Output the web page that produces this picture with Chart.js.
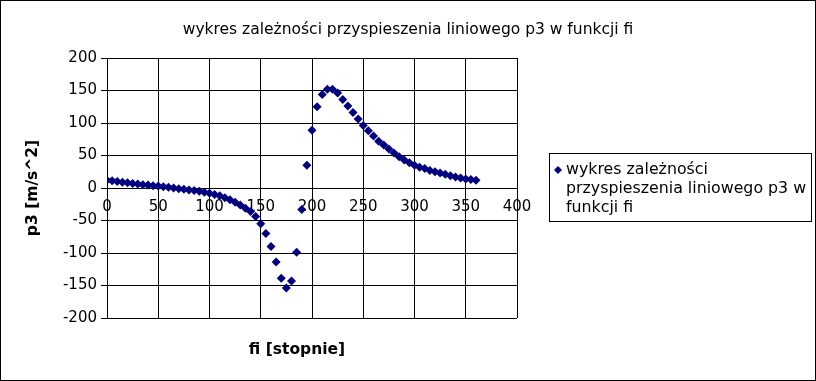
<!DOCTYPE html>
<html>
<head>
<meta charset="utf-8">
<script src="https://cdn.jsdelivr.net/npm/chart.js@4.4.1/dist/chart.umd.min.js"></script>
<style>
    html, body { margin: 0; padding: 0; background: #fff; }
    #wykres { display: block; }
</style>
</head>
<body>
<canvas id="wykres" width="816" height="381"></canvas>
<script>
// Dane: kąt fi co 5 stopni, przyspieszenie p3
const fiStopnie = [
    0, 5, 10, 15, 20, 25, 30, 35, 40, 45, 50, 55, 60, 65, 70, 75, 80, 85, 90, 95,
    100, 105, 110, 115, 120, 125, 130, 135, 140, 145, 150, 155, 160, 165, 170, 175,
    180, 185, 190, 195, 200, 205, 210, 215, 220, 225, 230, 235, 240, 245, 250, 255,
    260, 265, 270, 275, 280, 285, 290, 295, 300, 305, 310, 315, 320, 325, 330, 335,
    340, 345, 350, 355, 360
];
const p3 = [
    12, 11, 10, 9, 8, 7, 6, 5, 4.5, 3.5, 3, 2, 1, 0, -1, -2, -3, -4, -5, -6.5,
    -8, -10, -12, -15, -18, -22, -26, -31, -36, -44, -55, -70, -90, -114, -139, -154,
    -143, -99, -33, 35, 89, 125, 144, 152, 152, 146, 136, 126, 116, 106, 96, 88,
    80, 72, 66, 60, 54, 48, 43, 39, 35, 32, 30, 27, 25, 23, 21, 19,
    17, 15.5, 14, 13, 12
];
const xTicki = [0, 50, 100, 150, 200, 250, 300, 350, 400];
const yTicki = [-200, -150, -100, -50, 0, 50, 100, 150, 200];

const tytulWykresu = 'wykres zależności przyspieszenia liniowego p3 w funkcji fi';
const etykietaSerii = 'wykres zależności przyspieszenia liniowego p3 w funkcji fi';
const liniiLegendy = ['wykres zależności', 'przyspieszenia liniowego p3 w', 'funkcji fi'];
const tytulX = 'fi [stopnie]';
const tytulY = 'p3 [m/s^2]';

const KOLOR = '#000080';
const FONT = '"DejaVu Sans", Verdana, sans-serif';

// Tytuł, tytuły osi, legenda w ramce i obramowanie całości
const dodatki = {
    id: 'dodatki',
    beforeDraw(chart) {
        const ctx = chart.ctx;
        ctx.save();
        ctx.fillStyle = '#fff';
        ctx.fillRect(0, 0, chart.width, chart.height);
        ctx.restore();
    },
    afterDraw(chart) {
        const ctx = chart.ctx;
        const area = chart.chartArea;
        ctx.save();
        ctx.fillStyle = '#000';
        ctx.textBaseline = 'middle';

        // tytuł
        ctx.font = '15.5px ' + FONT;
        ctx.textAlign = 'center';
        ctx.fillText(tytulWykresu, chart.width / 2, 30);

        // tytuł osi X
        ctx.font = 'bold 15.5px ' + FONT;
        ctx.fillText(tytulX, area.left + 190, 350);

        // tytuł osi Y
        ctx.save();
        ctx.translate(33, (area.top + area.bottom) / 2);
        ctx.rotate(-Math.PI / 2);
        ctx.fillText(tytulY, 0, 0);
        ctx.restore();

        // legenda
        ctx.strokeStyle = '#000';
        ctx.lineWidth = 1;
        ctx.strokeRect(549.5, 153.5, 262, 68);
        ctx.fillStyle = KOLOR;
        ctx.beginPath();
        ctx.moveTo(558, 166);
        ctx.lineTo(562, 170);
        ctx.lineTo(558, 174);
        ctx.lineTo(554, 170);
        ctx.closePath();
        ctx.fill();
        ctx.fillStyle = '#000';
        ctx.font = '15.8px ' + FONT;
        ctx.textAlign = 'left';
        liniiLegendy.forEach((linia, i) => {
            ctx.fillText(linia, 566, 170 + i * 19);
        });

        // ramka całego obrazka
        ctx.strokeRect(0.5, 0.5, chart.width - 1, chart.height - 1);
        ctx.restore();
    }
};

new Chart(document.getElementById('wykres'), {
    type: 'scatter',
    data: {
        datasets: [{
            label: etykietaSerii,
            data: fiStopnie.map((fi, i) => ({ x: fi, y: p3[i] })),
            pointStyle: 'rectRot',
            pointRadius: 4.5,
            backgroundColor: KOLOR,
            borderColor: KOLOR,
            borderWidth: 0
        }]
    },
    options: {
        responsive: false,
        animation: false,
        layout: { padding: { left: 0, right: 299, top: 58, bottom: 63 } },
        plugins: {
            legend: { display: false },
            title: { display: false },
            tooltip: { enabled: false }
        },
        scales: {
            x: {
                type: 'linear',
                position: { y: 0 },
                min: xTicki[0],
                max: xTicki[xTicki.length - 1],
                afterBuildTicks: scale => { scale.ticks = xTicki.map(v => ({ value: v })); },
                grid: { color: '#000', lineWidth: 1, drawTicks: false },
                border: { color: '#000' },
                ticks: { color: '#000', font: { family: FONT, size: 15 }, padding: 10, maxRotation: 0 }
            },
            y: {
                type: 'linear',
                min: yTicki[0],
                max: yTicki[yTicki.length - 1],
                afterBuildTicks: scale => { scale.ticks = yTicki.map(v => ({ value: v })); },
                afterFit: scale => { scale.width = 107; },
                grid: { color: '#000', lineWidth: 1, tickLength: 6 },
                border: { color: '#000' },
                ticks: { color: '#000', font: { family: FONT, size: 15 }, padding: 4 }
            }
        }
    },
    plugins: [dodatki]
});
</script>
</body>
</html>
